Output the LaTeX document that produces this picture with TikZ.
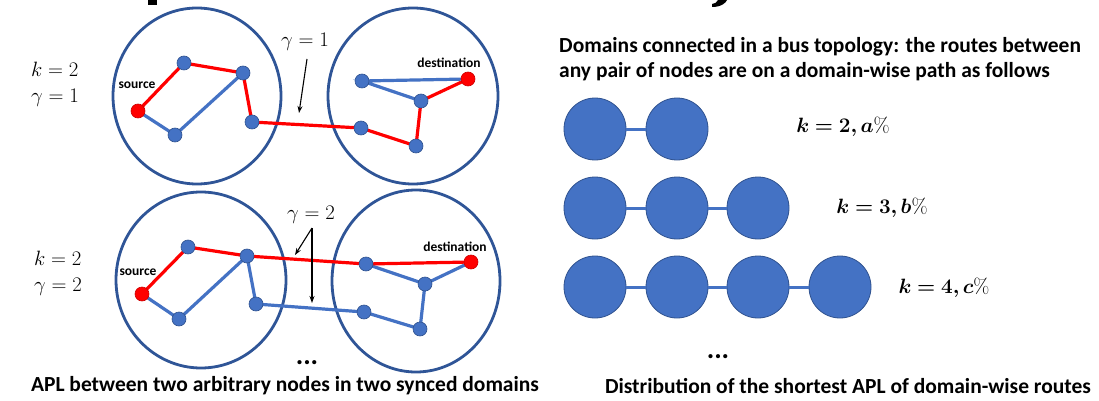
\documentclass[tikz,border=0pt]{standalone}
\usepackage{bm}
\usepackage[no-math]{fontspec}
\setmainfont{Carlito}
\usetikzlibrary{arrows.meta,shapes.geometric}
\definecolor{nblue}{HTML}{4472C4}
\definecolor{nedge}{HTML}{2F528F}
\definecolor{dom}{HTML}{2F5597}
\definecolor{rred}{HTML}{FF0000}
\pgfdeclarelayer{bg}
\pgfdeclarelayer{edges}
\pgfsetlayers{bg,edges,main}
\newcommand{\kpct}[2]{$\bm{k=#1,#2\%}$}
\tikzset{
  dombox/.style={ellipse, draw=dom, line width=2.8pt, inner sep=0pt},
  bn/.style={circle, fill=nblue, draw=nedge, line width=0.6pt, minimum size=14pt, inner sep=0pt},
  rn/.style={bn, fill=rred, draw=red!80!black},
  big/.style={circle, fill=nblue, draw=nedge, line width=0.8pt, minimum size=62pt, inner sep=0pt},
  redge/.style={draw=rred, line width=3.2pt},
  bedge/.style={draw=nblue, line width=3.2pt},
  busedge/.style={draw=nblue, line width=3pt},
  small/.style={font=\fontsize{13.5}{15}\selectfont\bfseries, inner sep=0pt},
  mathlab/.style={font=\fontsize{20}{24}\selectfont, inner sep=0pt, align=left},
  klab/.style={font=\fontsize{21}{24}\selectfont, inner sep=0pt},
  bigtext/.style={font=\fontsize{21.5}{25}\selectfont\bfseries, inner sep=0pt},
  dots/.style={font=\fontsize{28}{30}\selectfont\bfseries, inner sep=0pt},
  pointer/.style={-{Stealth[length=7pt,width=5pt]}, line width=1.1pt, black}
}
\begin{document}
\begin{tikzpicture}[x=1pt,y=-1pt]
\useasboundingbox (0,0) rectangle (1099,401);
% cropped title fragments
\fill (148,0) rectangle (157,5);
\fill (712,7) .. controls (721,7) and (726,3) .. (727,0) -- (718,0) .. controls (717,2) and (715,4) .. (712,4) -- cycle;

% ---------- domains ----------
\begin{pgfonlayer}{bg}
\node[dombox, minimum width=168pt, minimum height=176pt] (dtl) at (197,96) {};
\node[dombox, minimum width=170pt, minimum height=176pt] (dtr) at (413,96) {};
\node[dombox, minimum width=170pt, minimum height=176pt] (dbl) at (201,280) {};
\node[dombox, minimum width=168pt, minimum height=182pt] (dbr) at (416,281) {};
\end{pgfonlayer}

% ---------- top pair ----------
\node[rn] (s1) at (138,111) {};
\node[bn] (a1) at (184,63) {};
\node[bn] (b1) at (243,73) {};
\node[bn] (c1) at (252,122) {};
\node[bn] (d1) at (175,135) {};
\node[bn] (e1) at (361,128) {};
\node[bn] (f1) at (362,81) {};
\node[bn] (g1) at (421,101) {};
\node[bn] (h1) at (416,146) {};
\node[rn] (t1) at (468,79) {};
\begin{pgfonlayer}{edges}
\draw[redge] (s1.center) -- (a1.center) -- (b1.center) -- (c1.center) -- (e1.center) -- (h1.center) -- (g1.center) -- (t1.center);
\draw[bedge] (s1.center) -- (d1.center) -- (b1.center);
\draw[bedge] (t1.center) -- (f1.center) -- (g1.center);
\end{pgfonlayer}
\node[small] (src1) at (137,85) {source};
\node[small] (dst1) at (449,63) {destination};
\node[mathlab] (lab1) at (55,84) {$k=2$\\[2pt]$\gamma=1$};
\node[mathlab] (g1lab) at (305,42) {$\gamma=1$};
\coordinate (g1tip) at (299,113);
\draw[pointer] (307,59) -- (g1tip);

% ---------- bottom pair ----------
\node[rn] (s2) at (142,294) {};
\node[bn] (a2) at (188,247) {};
\node[bn] (b2) at (247,256) {};
\node[bn] (c2) at (256,304) {};
\node[bn] (d2) at (179,319) {};
\node[bn] (f2) at (366,264) {};
\node[bn] (g2) at (425,284) {};
\node[bn] (e2) at (364,312) {};
\node[bn] (h2) at (420,329) {};
\node[rn] (t2) at (471,262) {};
\begin{pgfonlayer}{edges}
\draw[bedge] (s2.center) -- (d2.center) -- (b2.center) -- (c2.center) -- (e2.center) -- (h2.center) -- (g2.center) -- (t2.center);
\draw[bedge] (f2.center) -- (g2.center);
\draw[redge] (s2.center) -- (a2.center) -- (b2.center) -- (f2.center) -- (t2.center);
\end{pgfonlayer}
\node[small] (src2) at (138,272) {source};
\node[small] (dst2) at (455,247) {destination};
\node[mathlab] (lab2) at (58,273) {$k=2$\\[2pt]$\gamma=2$};
\node[mathlab] (g2lab) at (311,215) {$\gamma=2$};
\coordinate (g2root) at (312,228);
\coordinate (g2tipa) at (295,255);
\coordinate (g2tipb) at (312,303);
\draw[pointer] (g2root) -- (g2tipa);
\draw[pointer] (g2root) -- (g2tipb);

\node[dots] (ldots) at (307,363) {...};
\node[bigtext] (lcap) at (285,386) {APL between two arbitrary nodes in two synced domains};

% ---------- right side ----------
\node[bigtext, anchor=west, align=left] (rhead) at (559,59.5) {Domains connected in a bus topology: the routes between\\any pair of nodes are on a domain-wise path as follows};

\node[big] (r1a) at (595,129) {};
\node[big] (r1b) at (677,129) {};
\draw[busedge] (r1a) -- (r1b);

\node[big] (r2a) at (595,208) {};
\node[big] (r2b) at (677,208) {};
\node[big] (r2c) at (758,208) {};
\draw[busedge] (r2a) -- (r2b);
\draw[busedge] (r2b) -- (r2c);

\node[big] (r3a) at (595,287) {};
\node[big] (r3b) at (677,287) {};
\node[big] (r3c) at (758,287) {};
\node[big] (r3d) at (840,287) {};
\draw[busedge] (r3a) -- (r3b);
\draw[busedge] (r3b) -- (r3c);
\draw[busedge] (r3c) -- (r3d);

\node[klab] (k2) at (843,127) {\kpct{2}{a}};
\node[klab] (k3) at (882,208) {\kpct{3}{b}};
\node[klab] (k4) at (944,288) {\kpct{4}{c}};

\node[dots] (rdots) at (718,357) {...};
\node[bigtext] (rcap) at (848,386) {Distribution of the shortest APL of domain-wise routes};
\end{tikzpicture}
\end{document}
